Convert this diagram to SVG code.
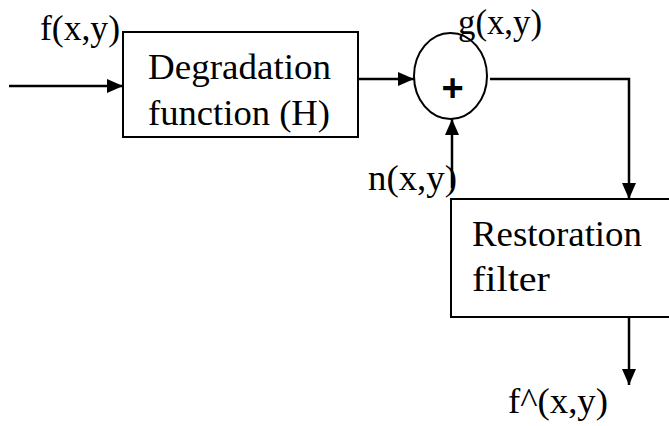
<svg xmlns="http://www.w3.org/2000/svg" width="669" height="426" viewBox="0 0 669 426">
<defs>
<style>
text.t{font-family:'Liberation Serif','Times New Roman',Times,serif;font-size:35px;fill:#000}
.b{fill:#fff;stroke:#000;stroke-width:2}
.c{fill:none;stroke:#000;stroke-width:2.5}
</style>
<marker id="ah" markerUnits="userSpaceOnUse" markerWidth="16" markerHeight="14" refX="16" refY="7" orient="auto">
<path d="M0,0 L16,7 L0,14 z" fill="#000"/>
</marker>
</defs>
<rect width="669" height="426" fill="#fff"/>
<g id="connectors">
<line class="c" x1="9" y1="86" x2="123" y2="86" marker-end="url(#ah)"/>
<line class="c" x1="358" y1="79" x2="414" y2="79" marker-end="url(#ah)"/>
<line class="c" x1="452" y1="188" x2="452" y2="119" marker-end="url(#ah)"/>
<polyline class="c" points="490,79 629,79 629,199" marker-end="url(#ah)"/>
<line class="c" x1="629" y1="317" x2="629" y2="385" marker-end="url(#ah)"/>
</g>
<g id="degradation">
<rect class="b" x="123" y="32" width="235" height="105"/>
<text class="t" x="148" y="79" textLength="183" lengthAdjust="spacingAndGlyphs">Degradation</text>
<text class="t" x="148" y="125" textLength="182" lengthAdjust="spacingAndGlyphs">function (H)</text>
</g>
<g id="sum">
<ellipse class="b" cx="450.5" cy="76" rx="36.5" ry="43"/>
<text x="452.5" y="101" text-anchor="middle" font-family="Liberation Sans, Arial, sans-serif" font-size="38" font-weight="bold">+</text>
</g>
<g id="restoration">
<rect class="b" x="451" y="199" width="240" height="118"/>
<text class="t" x="472" y="246" textLength="170" lengthAdjust="spacingAndGlyphs">Restoration</text>
<text class="t" x="472" y="291" textLength="78" lengthAdjust="spacingAndGlyphs">filter</text>
</g>
<g id="labels">
<text class="t" x="40" y="40" textLength="80" lengthAdjust="spacingAndGlyphs">f(x,y)</text>
<text class="t" x="458" y="34" textLength="84" lengthAdjust="spacingAndGlyphs">g(x,y)</text>
<text class="t" x="368" y="190" textLength="89" lengthAdjust="spacingAndGlyphs">n(x,y)</text>
<text class="t" x="508" y="413" textLength="100" lengthAdjust="spacingAndGlyphs">f^(x,y)</text>
</g>
</svg>
